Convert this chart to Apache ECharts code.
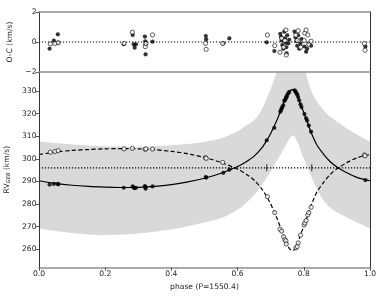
<!DOCTYPE html>
<html><head><meta charset="utf-8">
<script src="https://cdn.jsdelivr.net/npm/echarts@6/dist/echarts.min.js"></script>
<style>html,body{margin:0;padding:0;background:#fff}#c{width:382px;height:300px}</style>
</head><body><div id="c"></div>
<script>
// ---- model curves ----
const modelPhase = [0, 0.05, 0.1, 0.15, 0.2, 0.25, 0.3, 0.35, 0.4, 0.45, 0.5, 0.55, 0.6, 0.625, 0.65, 0.675, 0.69, 0.7, 0.71, 0.72, 0.73, 0.74, 0.75, 0.755, 0.76, 0.765, 0.77, 0.775, 0.78, 0.79, 0.8, 0.81, 0.82, 0.83, 0.84, 0.86, 0.88, 0.9, 0.93, 0.96, 1.0];
const primaryModel = [290.3, 289.1, 288.3, 287.8, 287.5, 287.3, 287.4, 287.8, 288.6, 289.8, 291.4, 293.6, 296.6, 298.6, 301.2, 305.2, 308.6, 311.2, 314.3, 317.5, 321.2, 325.0, 328.3, 329.5, 330.3, 330.6, 330.4, 329.7, 328.5, 324.0, 320.5, 316.6, 312.4, 309.0, 306.0, 302.0, 298.7, 296.4, 293.8, 291.8, 290.3];
const secondaryModel = [301.9, 303.0, 303.7, 304.1, 304.4, 304.5, 304.4, 304.0, 303.3, 302.2, 300.6, 298.4, 295.4, 293.3, 290.5, 286.3, 282.7, 280.0, 276.7, 273.3, 269.4, 265.4, 261.9, 260.6, 259.8, 259.4, 259.6, 260.4, 261.6, 266.4, 270.1, 274.2, 278.6, 282.2, 285.4, 289.6, 293.1, 295.6, 298.3, 300.4, 301.9];

// ---- grey envelope ----
const bandPhase = [0, 0.1, 0.2, 0.3, 0.4, 0.45, 0.5, 0.55, 0.6, 0.62, 0.65, 0.67, 0.7, 0.72, 0.74, 0.755, 0.767, 0.78, 0.8, 0.82, 0.84, 0.86, 0.88, 0.9, 0.95, 1.0];
const bandLower = [269.2, 267.2, 266.3, 266.9, 268.8, 270.2, 271.8, 273.8, 277.5, 279.7, 284.0, 287.8, 294.4, 299.5, 304.5, 308.4, 310.4, 307.5, 300.0, 293.0, 286.5, 281.5, 278.3, 276.3, 272.6, 269.2];
const bandUpper = [307.6, 306.3, 305.5, 305.3, 306.0, 306.5, 307.5, 309.1, 312.2, 314.2, 317.2, 321.0, 331.0, 339.0, 346.0, 349.0, 350.0, 348.0, 341.0, 331.0, 325.2, 321.5, 318.6, 316.5, 311.6, 307.6];

const gammaRV = 296;
const markerPhase = [0.688, 0.824];

// ---- observations: primary (filled) ----
const obs1Phase = [0.032, 0.045, 0.057, 0.058, 0.256, 0.283, 0.286, 0.289, 0.293, 0.320, 0.321, 0.322, 0.322, 0.343, 0.504, 0.505, 0.557, 0.575, 0.688, 0.711, 0.729, 0.731, 0.733, 0.735, 0.738, 0.741, 0.743, 0.745, 0.747, 0.748, 0.750, 0.753, 0.756, 0.772, 0.775, 0.778, 0.780, 0.783, 0.786, 0.790, 0.793, 0.802, 0.807, 0.810, 0.815, 0.822, 0.986];
const obs1RV = [288.6, 288.9, 288.9, 288.7, 287.2, 287.8, 287.3, 287.0, 287.2, 287.9, 287.6, 287.4, 286.8, 287.8, 291.9, 291.7, 293.8, 295.2, 308.2, 313.7, 320.8, 321.5, 322.2, 322.9, 323.7, 325.6, 326.0, 326.5, 327.2, 327.4, 328.2, 329.0, 329.6, 330.3, 329.8, 329.0, 328.4, 327.3, 325.9, 324.1, 322.9, 319.8, 317.9, 316.9, 314.7, 312.0, 290.6];
const obs1OC = [-0.45, 0.09, 0.51, -0.04, -0.15, 0.47, -0.15, -0.38, -0.15, 0.36, 0.05, -0.15, -0.82, 0.02, 0.40, 0.18, -0.09, 0.24, -0.02, -0.60, 0.55, 0.35, 0.10, -0.20, -0.45, 0.69, 0.25, -0.05, -0.35, -0.75, 0.45, -0.10, 0.15, 0.69, 0.30, 0.05, -0.25, 0.45, -0.45, -0.10, 0.20, -0.30, -0.65, -0.45, -0.10, -0.25, -0.30];

// ---- observations: secondary (open) ----
const obs2Phase = [0.034, 0.048, 0.058, 0.257, 0.282, 0.321, 0.323, 0.343, 0.503, 0.505, 0.555, 0.690, 0.712, 0.728, 0.733, 0.739, 0.743, 0.746, 0.747, 0.776, 0.780, 0.783, 0.790, 0.801, 0.803, 0.807, 0.812, 0.815, 0.822, 0.983, 0.985];
const obs2RV = [302.9, 303.2, 303.6, 304.4, 304.6, 304.2, 304.4, 304.3, 300.5, 300.2, 298.4, 283.3, 276.2, 268.8, 268.0, 265.5, 264.2, 263.7, 262.3, 260.6, 261.2, 262.8, 266.2, 270.7, 271.6, 272.7, 275.2, 276.2, 278.6, 301.7, 301.3];
const obs2OC = [-0.13, -0.10, -0.05, -0.10, 0.65, -0.31, -0.10, 0.47, -0.09, -0.49, -0.10, 0.47, -0.24, -0.69, 0.25, -0.35, 0.10, 0.80, -0.87, 0.45, 0.10, 0.75, -0.35, 0.10, 0.60, 0.80, 0.47, -0.15, 0.05, -0.10, -0.55];

// ---- ticks ----
const xTicks = [0, 0.2, 0.4, 0.6, 0.8, 1.0];
const rvTicks = [260, 270, 280, 290, 300, 310, 320, 330];
const ocTicks = [-2, 0, 2];

const pair = (xs, ys) => xs.map((x, i) => [x, ys[i]]);
const FONT = 'DejaVu Sans';
const hLine = { show: true, onZero: false, lineStyle: { color: '#8f8f8f', width: 1.5 } };
const vLine = { show: true, onZero: false, lineStyle: { color: '#333', width: 1 } };
const tick = { show: true, length: 3.5, inside: false, lineStyle: { color: '#333', width: 0.8 } };
const lbl = { fontFamily: FONT, fontSize: 7.6, color: '#222' };
const minus = v => String(v).replace('-', '\u2212');
const AZ = 10;

const chart = echarts.init(document.getElementById('c'), null, { renderer: 'canvas' });
chart.setOption({
  animation: false,
  backgroundColor: '#fff',
  grid: [
    { left: 39, right: 12, top: 12, height: 60, outerBoundsMode: 'none', containLabel: false },
    { left: 39, right: 12, top: 72, height: 195.3, outerBoundsMode: 'none', containLabel: false }
  ],
  xAxis: [
    { gridIndex: 0, z: AZ, type: 'value', min: 0, max: 1, position: 'bottom', axisLine: hLine, axisTick: { show: false }, axisLabel: { show: false }, splitLine: { show: false } },
    { gridIndex: 0, z: AZ, type: 'value', min: 0, max: 1, position: 'top', axisLine: hLine, axisTick: { show: false }, axisLabel: { show: false }, splitLine: { show: false } },
    { gridIndex: 1, z: AZ, type: 'value', min: 0, max: 1, position: 'bottom', axisLine: hLine,
      axisTick: Object.assign({ customValues: xTicks }, tick),
      axisLabel: Object.assign({ customValues: xTicks, margin: 3, formatter: v => v.toFixed(1) }, lbl),
      splitLine: { show: false },
      name: 'phase (P=1550.4)', nameLocation: 'middle', nameGap: 15, nameTextStyle: lbl }
  ],
  yAxis: [
    { gridIndex: 0, z: AZ, type: 'value', min: -2, max: 2, position: 'left', axisLine: vLine,
      axisTick: Object.assign({ customValues: ocTicks }, tick),
      axisLabel: Object.assign({ customValues: ocTicks, margin: 2.5, formatter: minus }, lbl),
      splitLine: { show: false },
      name: 'O-C (km/s)', nameLocation: 'middle', nameGap: 13, nameTextStyle: lbl },
    { gridIndex: 0, z: AZ, type: 'value', min: -2, max: 2, position: 'right', axisLine: vLine, axisTick: { show: false }, axisLabel: { show: false }, splitLine: { show: false } },
    { gridIndex: 1, z: AZ, type: 'value', min: 252, max: 338.4, position: 'left', axisLine: vLine,
      axisTick: Object.assign({ customValues: rvTicks }, tick),
      axisLabel: Object.assign({ customValues: rvTicks, margin: 2.5 }, lbl),
      splitLine: { show: false },
      name: 'RV{s|GEB} (km/s)', nameLocation: 'middle', nameGap: 13,
      nameTextStyle: Object.assign({ rich: { s: { fontFamily: FONT, fontSize: 5.2, fontStyle: 'italic', color: '#222', verticalAlign: 'bottom', padding: [3, 0, 0, 0] } } }, lbl) },
    { gridIndex: 1, z: AZ, type: 'value', min: 252, max: 338.4, position: 'right', axisLine: vLine, axisTick: { show: false }, axisLabel: { show: false }, splitLine: { show: false } }
  ],
  series: [
    { type: 'line', xAxisIndex: 2, yAxisIndex: 2, data: pair(bandPhase, bandUpper), symbol: 'none', smooth: 0.4, lineStyle: { width: 0, opacity: 0 }, areaStyle: { color: '#d9d9d9', opacity: 1, origin: 'start' }, z: 1, silent: true },
    { type: 'line', xAxisIndex: 2, yAxisIndex: 2, data: pair(bandPhase, bandLower), symbol: 'none', smooth: 0.4, lineStyle: { width: 0, opacity: 0 }, areaStyle: { color: '#ffffff', opacity: 1, origin: 'start' }, z: 1, silent: true },
    { type: 'line', xAxisIndex: 2, yAxisIndex: 2, data: [[0, gammaRV], [1, gammaRV]], symbol: 'none', lineStyle: { color: '#000', width: 1.2, type: [1.2, 1.8] }, z: 3 },
    { type: 'scatter', xAxisIndex: 2, yAxisIndex: 2, data: markerPhase.map(p => [p, gammaRV]), symbol: 'rect', symbolSize: [1, 7], itemStyle: { color: '#000' }, z: 3 },
    { type: 'line', xAxisIndex: 2, yAxisIndex: 2, data: pair(modelPhase, primaryModel), symbol: 'none', smooth: 0.3, lineStyle: { color: '#000', width: 1.2 }, z: 4 },
    { type: 'line', xAxisIndex: 2, yAxisIndex: 2, data: pair(modelPhase, secondaryModel), symbol: 'none', smooth: 0.3, lineStyle: { color: '#000', width: 1.2, type: [4.2, 2.4] }, z: 4 },
    { type: 'scatter', xAxisIndex: 2, yAxisIndex: 2, data: pair(obs1Phase, obs1RV), symbol: 'circle', symbolSize: 4.2, itemStyle: { color: '#000' }, z: 5 },
    { type: 'scatter', xAxisIndex: 2, yAxisIndex: 2, data: pair(obs2Phase, obs2RV), symbol: 'circle', symbolSize: 4.2, itemStyle: { color: '#fff', borderColor: '#000', borderWidth: 0.8 }, z: 5 },
    { type: 'line', xAxisIndex: 0, yAxisIndex: 0, data: [[0, 0], [1, 0]], symbol: 'none', lineStyle: { color: '#000', width: 1.2, type: [1.2, 1.8] }, z: 3 },
    { type: 'scatter', xAxisIndex: 0, yAxisIndex: 0, data: pair(obs1Phase, obs1OC), symbol: 'circle', symbolSize: 4.2, itemStyle: { color: '#000' }, z: 5 },
    { type: 'scatter', xAxisIndex: 0, yAxisIndex: 0, data: pair(obs2Phase, obs2OC), symbol: 'circle', symbolSize: 4.2, itemStyle: { color: '#fff', borderColor: '#000', borderWidth: 0.8 }, z: 5 }
  ]
});
</script>
</body></html>
